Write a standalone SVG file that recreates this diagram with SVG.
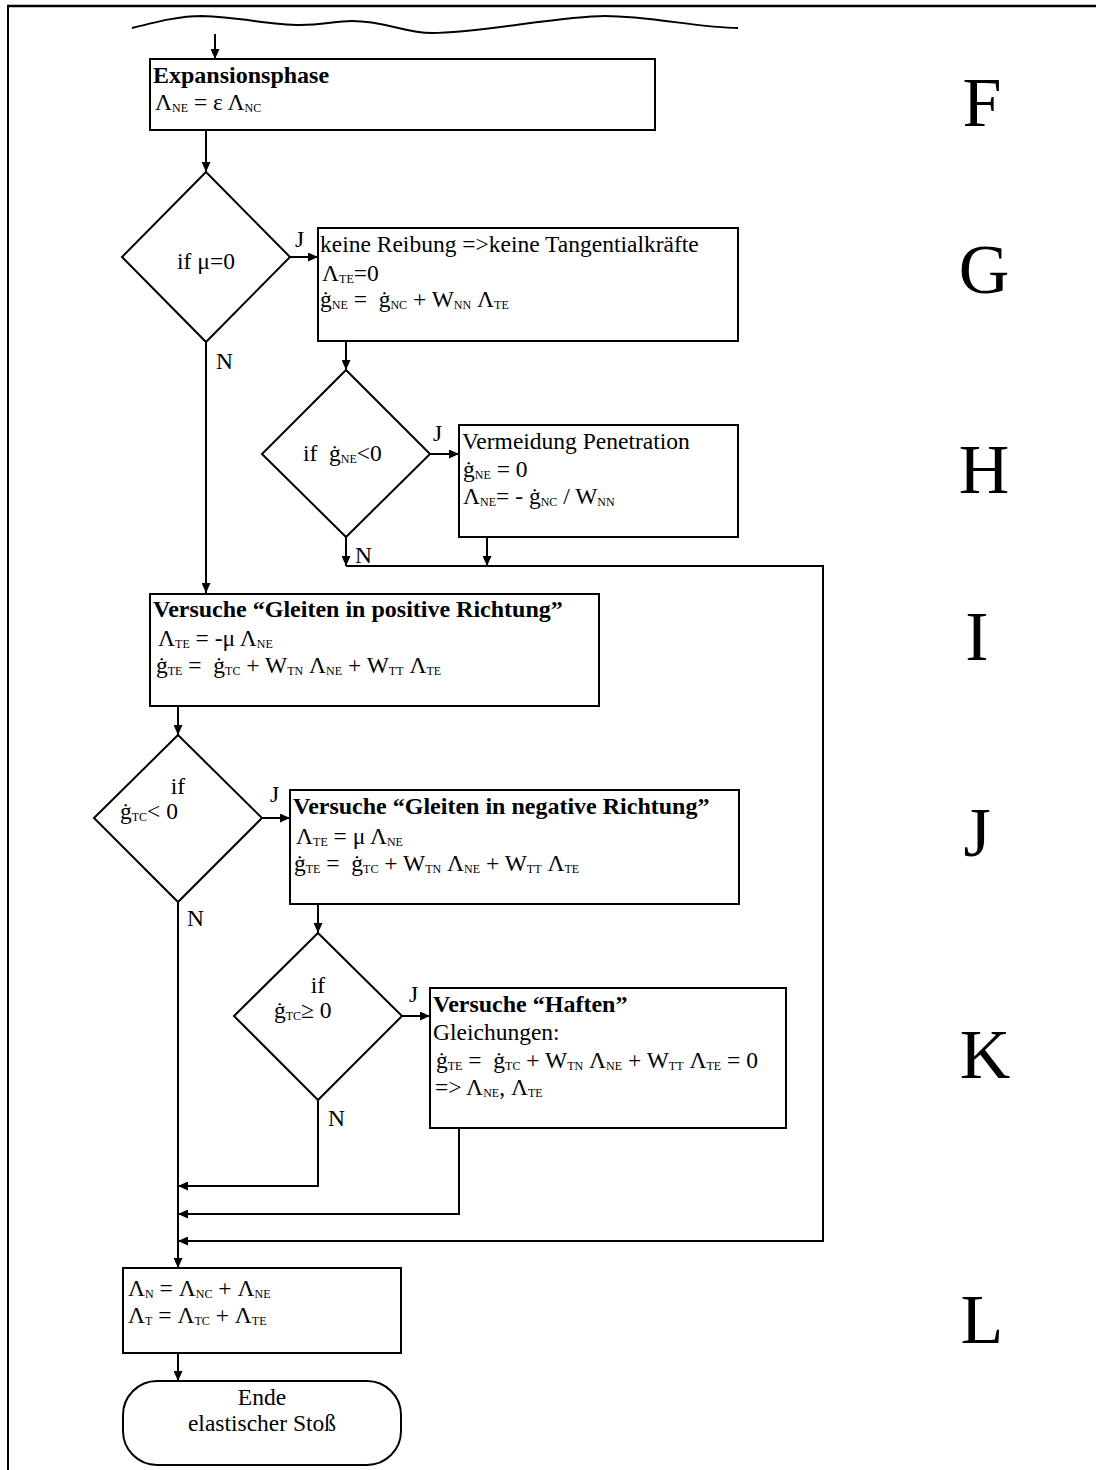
<svg xmlns="http://www.w3.org/2000/svg" width="1096" height="1470" viewBox="0 0 1096 1470">
  <style>
    .box { fill: #fff; stroke: #000; stroke-width: 2; }
    .ln { fill: none; stroke: #000; stroke-width: 2; }
    .arr { fill: none; stroke: #000; stroke-width: 2; marker-end: url(#ah); }
    text { font-family: "Liberation Serif", "Times New Roman", serif; font-size: 23.5px; fill: #000; }
    .b { font-weight: bold; font-size: 24px; }
    .s { font-size: 12px; }
    .c { text-anchor: middle; }
    .big { font-size: 70px; text-anchor: middle; }
  </style>
  <defs>
    <marker id="ah" markerUnits="userSpaceOnUse" markerWidth="10" markerHeight="9" refX="10" refY="4.5" orient="auto">
      <path d="M0,0 L10,4.5 L0,9 z" fill="#000"/>
    </marker>
  </defs>
  <rect width="1096" height="1470" fill="#fff"/>

  <!-- page frame and torn top edge -->
  <g id="frame">
    <line x1="7" y1="6" x2="1096" y2="6" stroke="#000" stroke-width="2.5"/>
    <line x1="8" y1="5" x2="8" y2="1470" stroke="#000" stroke-width="2"/>
    <path class="ln" stroke-width="1.3" d="M132,28 C160,21 180,16 202,16 C240,17 270,25 300,25 C322,25 336,21 352,21 C385,21 405,33 432,33 C480,33 560,16 605,16 C650,16 700,28 738,28"/>
  </g>

  <!-- connectors -->
  <g id="connectors">
    <line class="arr" x1="215" y1="34" x2="215" y2="59"/>
    <line class="arr" x1="206" y1="130" x2="206" y2="172"/>
    <line class="arr" x1="290" y1="257" x2="318" y2="257"/>
    <line class="arr" x1="206" y1="342" x2="206" y2="593"/>
    <line class="arr" x1="346" y1="341" x2="346" y2="370"/>
    <line class="arr" x1="430" y1="454" x2="459" y2="454"/>
    <line class="arr" x1="346" y1="537" x2="346" y2="566"/>
    <line class="arr" x1="487" y1="537" x2="487" y2="566"/>
    <polyline class="arr" points="346,566 823,566 823,1241 178,1241"/>
    <line class="arr" x1="178" y1="706" x2="178" y2="735"/>
    <line class="arr" x1="262" y1="818" x2="290" y2="818"/>
    <line class="arr" x1="178" y1="902" x2="178" y2="1268"/>
    <line class="arr" x1="318" y1="904" x2="318" y2="933"/>
    <line class="arr" x1="402" y1="1016" x2="430" y2="1016"/>
    <polyline class="arr" points="318,1100 318,1186 178,1186"/>
    <polyline class="arr" points="459,1128 459,1214 178,1214"/>
    <line class="arr" x1="178" y1="1353" x2="178" y2="1381"/>
    <text x="295" y="247">J</text>
    <text x="216" y="369">N</text>
    <text x="433" y="441">J</text>
    <text x="355" y="563">N</text>
    <text x="270" y="802">J</text>
    <text x="187" y="926">N</text>
    <text x="409" y="1002">J</text>
    <text x="328" y="1126">N</text>
  </g>

  <!-- F: expansion phase -->
  <g id="expansion">
    <rect class="box" x="150" y="59" width="505" height="71"/>
    <text class="b" x="153" y="83">Expansionsphase</text>
    <text x="155" y="110">Λ<tspan class="s" dy="2">NE</tspan><tspan dy="-2"> = ε Λ</tspan><tspan class="s" dy="2">NC</tspan></text>
  </g>

  <!-- G: friction test -->
  <g id="if-mu">
    <polygon class="box" points="206,172 290,257 206,342 122,257"/>
    <text class="c" x="206" y="269">if μ=0</text>
  </g>
  <g id="no-friction">
    <rect class="box" x="318" y="228" width="420" height="113"/>
    <text x="320" y="252">keine Reibung =&gt;keine Tangentialkräfte</text>
    <text x="322" y="281">Λ<tspan class="s" dy="2">TE</tspan><tspan dy="-2">=0</tspan></text>
    <text x="320" y="307" xml:space="preserve">ġ<tspan class="s" dy="2">NE</tspan><tspan dy="-2"> =  ġ</tspan><tspan class="s" dy="2">NC</tspan><tspan dy="-2"> + W</tspan><tspan class="s" dy="2">NN</tspan><tspan dy="-2"> Λ</tspan><tspan class="s" dy="2">TE</tspan></text>
  </g>

  <!-- H: penetration test -->
  <g id="if-gne">
    <polygon class="box" points="346,370 430,454 346,537 262,454"/>
    <text x="303" y="461" xml:space="preserve">if  ġ<tspan class="s" dy="2">NE</tspan><tspan dy="-2">&lt;0</tspan></text>
  </g>
  <g id="penetration">
    <rect class="box" x="459" y="425" width="279" height="112"/>
    <text x="462" y="449">Vermeidung Penetration</text>
    <text x="463" y="477">ġ<tspan class="s" dy="2">NE</tspan><tspan dy="-2"> = 0</tspan></text>
    <text x="463" y="504">Λ<tspan class="s" dy="2">NE</tspan><tspan dy="-2">= - ġ</tspan><tspan class="s" dy="2">NC</tspan><tspan dy="-2"> / W</tspan><tspan class="s" dy="2">NN</tspan></text>
  </g>

  <!-- I: positive sliding -->
  <g id="slide-pos">
    <rect class="box" x="150" y="594" width="449" height="112"/>
    <text class="b" x="153" y="617">Versuche “Gleiten in positive Richtung”</text>
    <text x="158" y="646">Λ<tspan class="s" dy="2">TE</tspan><tspan dy="-2"> = -μ Λ</tspan><tspan class="s" dy="2">NE</tspan></text>
    <text x="156" y="673" xml:space="preserve">ġ<tspan class="s" dy="2">TE</tspan><tspan dy="-2"> =  ġ</tspan><tspan class="s" dy="2">TC</tspan><tspan dy="-2"> + W</tspan><tspan class="s" dy="2">TN</tspan><tspan dy="-2"> Λ</tspan><tspan class="s" dy="2">NE</tspan><tspan dy="-2"> + W</tspan><tspan class="s" dy="2">TT</tspan><tspan dy="-2"> Λ</tspan><tspan class="s" dy="2">TE</tspan></text>
  </g>

  <!-- J: negative sliding -->
  <g id="if-gtc-neg">
    <polygon class="box" points="178,735 262,818 178,902 94,818"/>
    <text class="c" x="178" y="794">if</text>
    <text x="120" y="819" xml:space="preserve">ġ<tspan class="s" dy="2">TC</tspan><tspan dy="-2">&lt; 0</tspan></text>
  </g>
  <g id="slide-neg">
    <rect class="box" x="290" y="790" width="449" height="114"/>
    <text class="b" x="293" y="814">Versuche “Gleiten in negative Richtung”</text>
    <text x="296" y="844">Λ<tspan class="s" dy="2">TE</tspan><tspan dy="-2"> = μ Λ</tspan><tspan class="s" dy="2">NE</tspan></text>
    <text x="294" y="871" xml:space="preserve">ġ<tspan class="s" dy="2">TE</tspan><tspan dy="-2"> =  ġ</tspan><tspan class="s" dy="2">TC</tspan><tspan dy="-2"> + W</tspan><tspan class="s" dy="2">TN</tspan><tspan dy="-2"> Λ</tspan><tspan class="s" dy="2">NE</tspan><tspan dy="-2"> + W</tspan><tspan class="s" dy="2">TT</tspan><tspan dy="-2"> Λ</tspan><tspan class="s" dy="2">TE</tspan></text>
  </g>

  <!-- K: sticking -->
  <g id="if-gtc-pos">
    <polygon class="box" points="318,933 402,1016 318,1100 234,1016"/>
    <text class="c" x="318" y="993">if</text>
    <text x="274" y="1018" xml:space="preserve">ġ<tspan class="s" dy="2">TC</tspan><tspan dy="-2">≥ 0</tspan></text>
  </g>
  <g id="stick">
    <rect class="box" x="430" y="988" width="356" height="140"/>
    <text class="b" x="433" y="1012">Versuche “Haften”</text>
    <text x="433" y="1040">Gleichungen:</text>
    <text x="436" y="1068" xml:space="preserve">ġ<tspan class="s" dy="2">TE</tspan><tspan dy="-2"> =  ġ</tspan><tspan class="s" dy="2">TC</tspan><tspan dy="-2"> + W</tspan><tspan class="s" dy="2">TN</tspan><tspan dy="-2"> Λ</tspan><tspan class="s" dy="2">NE</tspan><tspan dy="-2"> + W</tspan><tspan class="s" dy="2">TT</tspan><tspan dy="-2"> Λ</tspan><tspan class="s" dy="2">TE</tspan><tspan dy="-2"> = 0</tspan></text>
    <text x="435" y="1095">=&gt; Λ<tspan class="s" dy="2">NE</tspan><tspan dy="-2">, Λ</tspan><tspan class="s" dy="2">TE</tspan></text>
  </g>

  <!-- L: total impulses -->
  <g id="totals">
    <rect class="box" x="123" y="1268" width="278" height="85"/>
    <text x="128" y="1296">Λ<tspan class="s" dy="2">N</tspan><tspan dy="-2"> = Λ</tspan><tspan class="s" dy="2">NC</tspan><tspan dy="-2"> + Λ</tspan><tspan class="s" dy="2">NE</tspan></text>
    <text x="128" y="1323">Λ<tspan class="s" dy="2">T</tspan><tspan dy="-2"> = Λ</tspan><tspan class="s" dy="2">TC</tspan><tspan dy="-2"> + Λ</tspan><tspan class="s" dy="2">TE</tspan></text>
  </g>
  <g id="end">
    <rect class="box" x="123" y="1381" width="278" height="84" rx="34" ry="34"/>
    <text class="c" x="262" y="1405">Ende</text>
    <text class="c" x="262" y="1431">elastischer Stoß</text>
  </g>

  <!-- phase letters -->
  <g id="phase-labels">
    <text class="big" x="982" y="126">F</text>
    <text class="big" x="984" y="293">G</text>
    <text class="big" x="984" y="493">H</text>
    <text class="big" x="977" y="660">I</text>
    <text class="big" x="977" y="856">J</text>
    <text class="big" x="985" y="1078">K</text>
    <text class="big" x="982" y="1343">L</text>
  </g>
</svg>
